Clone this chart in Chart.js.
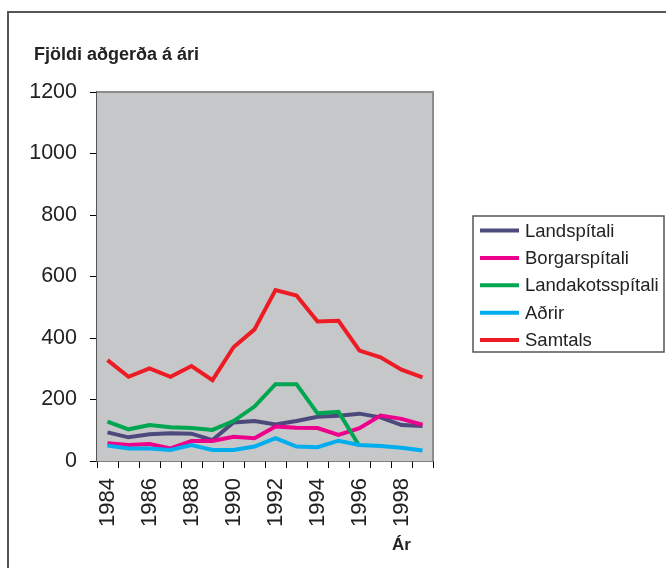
<!DOCTYPE html>
<html>
<head>
<meta charset="utf-8">
<script src="https://cdn.jsdelivr.net/npm/chart.js@4/dist/chart.umd.min.js"></script>
<style>
  html, body { margin: 0; padding: 0; background: #fff; }
  canvas { display: block; }
</style>
</head>
<body>
<canvas id="chart" width="666" height="568"></canvas>
<script>
const years = ['1984', '1985', '1986', '1987', '1988', '1989', '1990', '1991',
  '1992', '1993', '1994', '1995', '1996', '1997', '1998', '1999'];
const yTicks = [0, 200, 400, 600, 800, 1000, 1200];

const landspitali = [93, 77, 87, 90, 89, 68, 125, 130, 119, 130, 144, 147, 154, 142, 117, 114];
const borgarspitali = [58, 52, 55, 41, 65, 65, 79, 74, 112, 108, 107, 85, 107, 148, 137, 118];
const landakotsspitali = [128, 103, 117, 110, 107, 101, 130, 177, 250, 250, 155, 160, 48, null, null, null];
const adrir = [50, 41, 41, 36, 52, 36, 36, 47, 74, 47, 45, 66, 52, 49, 43, 34];
const samtals = [328, 274, 301, 274, 309, 263, 370, 428, 556, 538, 454, 456, 359, 337, 297, 272];

const FONT = '"Liberation Sans", Arial, sans-serif';
const TEXT = '#222';

const series = [
  ['Landspítali', landspitali, '#4c4a7c'],
  ['Borgarspítali', borgarspitali, '#ec008c'],
  ['Landakotsspítali', landakotsspitali, '#00a651'],
  ['Aðrir', adrir, '#00aeef'],
  ['Samtals', samtals, '#ed1c24'],
];

const datasets = series.map(([label, data, color], i) => ({
  label, data,
  borderColor: color,
  backgroundColor: color,
  borderWidth: 4,
  pointRadius: 0,
  tension: 0,
  fill: false,
  order: series.length - i,
}));

// plot background, frame, title, legend
const decor = {
  id: 'decor',
  beforeDatasetsDraw(chart) {
    const { ctx, chartArea: a } = chart;
    ctx.save();
    ctx.fillStyle = '#c6c7c9';
    ctx.fillRect(a.left, a.top, a.right - a.left, a.bottom - a.top);
    ctx.strokeStyle = '#8c8c8c';
    ctx.lineWidth = 2;
    ctx.beginPath();
    ctx.moveTo(a.left, a.top);
    ctx.lineTo(a.right, a.top);
    ctx.lineTo(a.right, a.bottom);
    ctx.stroke();
    ctx.restore();
  },
  afterDraw(chart) {
    const { ctx } = chart;
    ctx.save();
    // outer frame
    ctx.strokeStyle = '#555';
    ctx.lineWidth = 2;
    ctx.beginPath();
    ctx.moveTo(8, 568);
    ctx.lineTo(8, 12);
    ctx.lineTo(666, 12);
    ctx.stroke();

    // title + axis name
    ctx.fillStyle = TEXT;
    ctx.font = 'bold 18px ' + FONT;
    ctx.textBaseline = 'alphabetic';
    ctx.textAlign = 'left';
    ctx.fillText('Fjöldi aðgerða á ári', 34, 60);
    ctx.font = 'bold 17px ' + FONT;
    ctx.fillText('Ár', 392, 550);

    // legend
    ctx.strokeStyle = '#555';
    ctx.lineWidth = 1.5;
    ctx.strokeRect(473, 216, 191, 136);
    ctx.font = '18.5px ' + FONT;
    ctx.textBaseline = 'middle';
    chart.data.datasets.forEach((ds, i) => {
      const y = 230.5 + i * 27.4;
      ctx.strokeStyle = ds.borderColor;
      ctx.lineWidth = 4;
      ctx.beginPath();
      ctx.moveTo(480, y);
      ctx.lineTo(519, y);
      ctx.stroke();
      ctx.fillStyle = TEXT;
      ctx.fillText(ds.label, 525, y + 1);
    });
    ctx.restore();
  }
};

new Chart(document.getElementById('chart'), {
  type: 'line',
  data: { labels: years, datasets },
  plugins: [decor],
  options: {
    responsive: false,
    animation: false,
    layout: { padding: { left: 10, top: 92, right: 233, bottom: 0 } },
    plugins: { legend: { display: false }, tooltip: { enabled: false } },
    scales: {
      x: {
        offset: true,
        grid: { offset: true, drawOnChartArea: false, color: '#000', tickLength: 7, lineWidth: 1 },
        border: { color: '#000', width: 1.5 },
        ticks: {
          autoSkip: false,
          minRotation: 90,
          maxRotation: 90,
          padding: 10,
          color: TEXT,
          font: { family: FONT, size: 22 },
          callback: (v, i) => (i % 2 === 0 ? years[i] : ''),
        },
        afterFit: s => { s.height = 107; },
      },
      y: {
        min: 0,
        max: 1200,
        afterBuildTicks: s => { s.ticks = yTicks.map(value => ({ value })); },
        grid: { drawOnChartArea: false, color: '#000', tickLength: 7, lineWidth: 1 },
        border: { color: '#555', width: 2 },
        ticks: {
          padding: 13,
          color: TEXT,
          font: { family: FONT, size: 21.5 },
          callback: v => String(v),
        },
        afterFit: s => { s.width = 87; },
      }
    }
  }
});
</script>
</body>
</html>
